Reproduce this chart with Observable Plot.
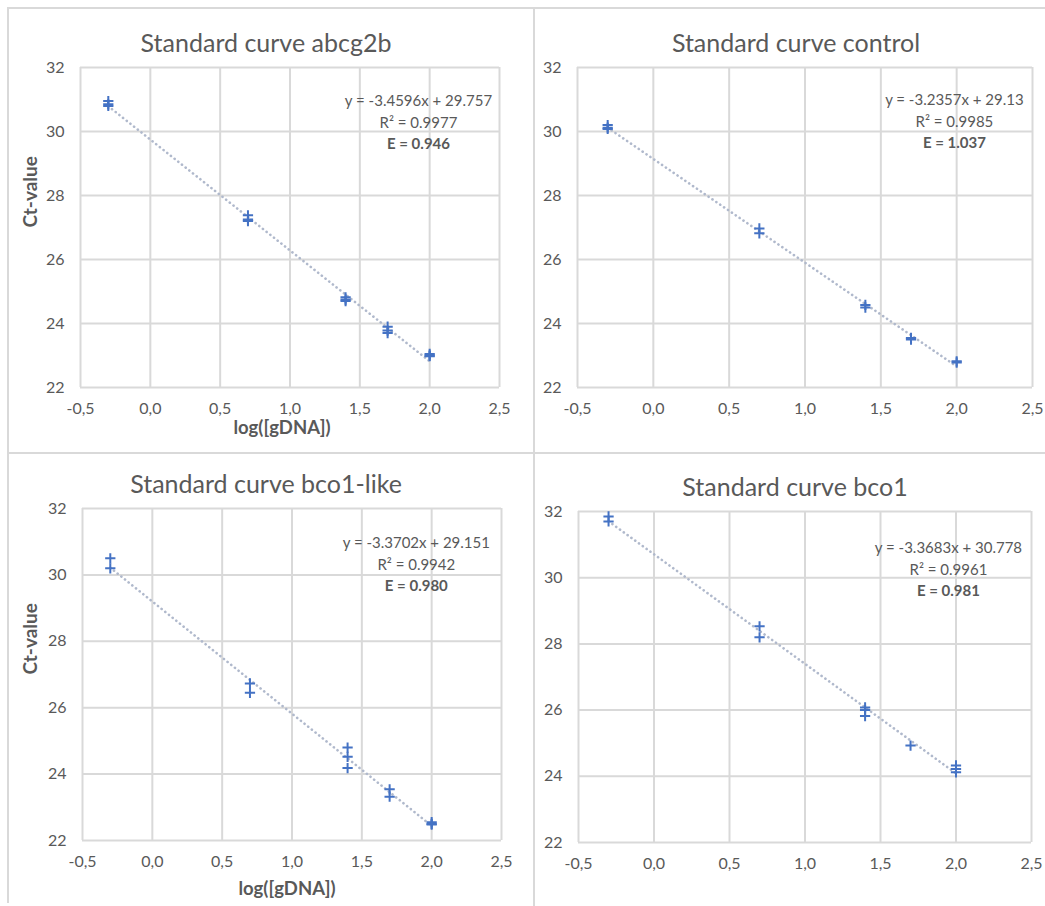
<!DOCTYPE html>
<html><head><meta charset="utf-8">
<script src="https://cdn.jsdelivr.net/npm/d3@7"></script>
<script src="https://cdn.jsdelivr.net/npm/@observablehq/plot@0.6"></script>
<style>
body{margin:0;background:#fff;}
#root{position:relative;width:1045px;height:906px;overflow:hidden;font-family:Lato,sans-serif;}
.line{position:absolute;background:#d9d9d9;}
.title{position:absolute;transform:translate(-50%,-50%);white-space:nowrap;color:#595959;font-size:25px;font-family:Lato,sans-serif;}
.panel{position:absolute;}
</style></head><body><div id="root"></div>
<script>
// ---- data ----
const xTicks = [-0.5, 0, 0.5, 1, 1.5, 2, 2.5];
const xTickLabels = ["-0,5", "0,0", "0,5", "1,0", "1,5", "2,0", "2,5"];
const yTicks = [22, 24, 26, 28, 30, 32];
const yTickLabels = ["22", "24", "26", "28", "30", "32"];

const abcg2bLog = [-0.301,-0.301,-0.301, 0.699,0.699,0.699, 1.398,1.398,1.398, 1.699,1.699,1.699, 2.0,2.0,2.0];
const abcg2bCt  = [30.95,30.85,30.80, 27.38,27.25,27.20, 24.82,24.75,24.70, 23.90,23.78,23.70, 23.05,23.00,22.98];

const controlLog = [-0.301,-0.301,-0.301, 0.699,0.699, 1.398,1.398, 1.699,1.699, 2.0,2.0];
const controlCt  = [30.20,30.12,30.08, 26.97,26.82, 24.58,24.50, 23.55,23.50, 22.82,22.78];

const bco1likeLog = [-0.301,-0.301, 0.699,0.699, 1.398,1.398,1.398, 1.699,1.699, 2.0,2.0,2.0];
const bco1likeCt  = [30.50,30.20, 26.73,26.45, 24.80,24.52,24.18, 23.54,23.32, 22.55,22.50,22.48];

const bco1Log = [-0.301,-0.301, 0.699,0.699, 1.398,1.398,1.398, 1.699, 2.0,2.0,2.0];
const bco1Ct  = [31.85,31.70, 28.53,28.20, 26.08,26.00,25.82, 24.93, 24.33,24.22,24.12];

const titles = ["Standard curve abcg2b", "Standard curve control", "Standard curve bco1-like", "Standard curve bco1"];
const equations = ["y = -3.4596x + 29.757", "y = -3.2357x + 29.13", "y = -3.3702x + 29.151", "y = -3.3683x + 30.778"];
const rSquared = ["R² = 0.9977", "R² = 0.9985", "R² = 0.9942", "R² = 0.9961"];
const efficiency = ["E = 0.946", "E = 1.037", "E = 0.980", "E = 0.981"];
const yAxisTitle = "Ct-value";
const xAxisTitle = "log([gDNA])";

// ---- layout ----
const panels = [
  {x: abcg2bLog, ct: abcg2bCt, left: 0, top: 0, width: 534, height: 453,
   m: [67, 35, 66, 80], titlePos: [266, 42], ann: [1.92, 30.94], axisTitles: true, ytDx: -50, xtDy: 46, xtDx: -8},
  {x: controlLog, ct: controlCt, left: 534, top: 0, width: 511, height: 453,
   m: [67, 13, 66, 43], titlePos: [796, 42], ann: [1.985, 30.97], axisTitles: false},
  {x: bco1likeLog, ct: bco1likeCt, left: 0, top: 453, width: 534, height: 453,
   m: [55, 33, 66, 82], titlePos: [266, 483], ann: [1.89, 30.95], axisTitles: true, ytDx: -52, xtDy: 54, xtDx: -5},
  {x: bco1Log, ct: bco1Ct, left: 534, top: 453, width: 511, height: 453,
   m: [58, 14, 64, 44], titlePos: [795, 486], ann: [1.95, 30.88], axisTitles: false}
];

const root = document.getElementById("root");
function addLine(l, t, w, h) {
  const d = document.createElement("div");
  d.className = "line";
  Object.assign(d.style, {left: l + "px", top: t + "px", width: w + "px", height: h + "px"});
  root.appendChild(d);
}
addLine(7, 7, 1045, 2);
addLine(7, 7, 2, 896);
addLine(533, 7, 2, 899);
addLine(533, 452, 512, 2);
addLine(7, 452, 528, 2);

const gridStyle = {stroke: "#d9d9d9", strokeOpacity: 1, strokeWidth: 2};

panels.forEach((p, k) => {
  const data = p.x.map((x, i) => ({x, y: p.ct[i]}));
  const ann = [{x: p.ann[0], y: p.ann[1]}];
  const marks = [
    Plot.gridX({ticks: xTicks, ...gridStyle}),
    Plot.gridY({ticks: yTicks, ...gridStyle}),
    Plot.axisX({ticks: xTicks, tickSize: 0, tickPadding: 15, label: null, fontSize: 16,
      tickFormat: d => xTickLabels[xTicks.indexOf(d)]}),
    Plot.axisY({ticks: yTicks, tickSize: 0, tickPadding: 16, label: null, fontSize: 16,
      tickFormat: d => yTickLabels[yTicks.indexOf(d)]}),
    Plot.linearRegressionY(data, {x: "x", y: "y", ci: 0, stroke: "#b0b9cc", strokeWidth: 2.6,
      strokeDasharray: "0.1,4.6", strokeLinecap: "round"}),
    Plot.dot(data, {x: "x", y: "y", symbol: "plus", r: 3.4, stroke: "#4472C4", strokeWidth: 2}),
    Plot.text(ann, {x: "x", y: "y", text: () => equations[k], fontSize: 15, fill: "#595959", textAnchor: "middle"}),
    Plot.text(ann, {x: "x", y: "y", text: () => rSquared[k], dy: 21.5, fontSize: 15, fill: "#595959", textAnchor: "middle"}),
    Plot.text(ann, {x: "x", y: "y", text: () => efficiency[k], dy: 43, fontSize: 15, fontWeight: "bold", fill: "#595959", textAnchor: "middle"})
  ];
  if (p.axisTitles) {
    marks.push(Plot.text([yAxisTitle], {text: d => d, frameAnchor: "left", dx: p.ytDx, rotate: -90, fontSize: 19, fontWeight: "bold", fill: "#595959"}));
    marks.push(Plot.text([xAxisTitle], {text: d => d, frameAnchor: "bottom", dy: p.xtDy, dx: p.xtDx, fontSize: 18.5, fontWeight: "bold", fill: "#595959"}));
  }
  const chart = Plot.plot({
    width: p.width, height: p.height,
    marginTop: p.m[0], marginRight: p.m[1], marginBottom: p.m[2], marginLeft: p.m[3],
    x: {domain: [-0.5, 2.5]},
    y: {domain: [22, 32]},
    style: {color: "#595959", fontFamily: "Lato, sans-serif", fontSize: "16px", background: "transparent", overflow: "visible"},
    marks
  });
  chart.classList.add("panel");
  chart.style.left = p.left + "px";
  chart.style.top = p.top + "px";
  root.appendChild(chart);

  const t = document.createElement("div");
  t.className = "title";
  t.textContent = titles[k];
  t.style.left = p.titlePos[0] + "px";
  t.style.top = p.titlePos[1] + "px";
  root.appendChild(t);
});
</script></body></html>
